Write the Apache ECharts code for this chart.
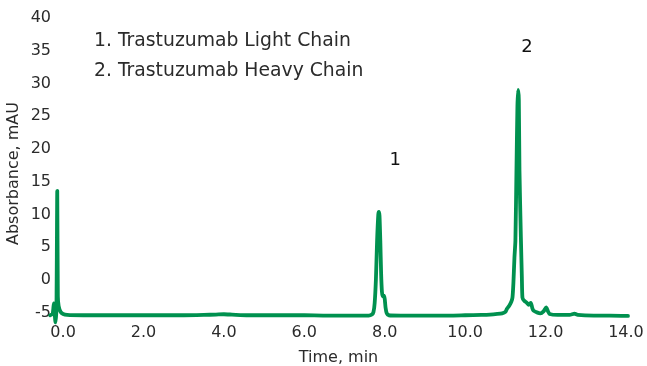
<!DOCTYPE html>
<html>
<head>
<meta charset="utf-8">
<script src="https://cdn.jsdelivr.net/npm/echarts@6/dist/echarts.min.js"></script>
<style>
  html, body { margin: 0; padding: 0; background: #fff; }
  #chart { width: 647px; height: 366px; }
</style>
</head>
<body>
<div id="chart"></div>
<script>
// Retention time (min) and absorbance (mAU) of the UV trace
const timeMin = [
  -0.32, -0.26, -0.23, -0.21, -0.19, -0.165, -0.145, -0.13, -0.11, -0.06, 0.00, 0.10,
  0.50, 1.00, 1.50, 2.00, 2.50, 3.00, 3.50, 3.80, 4.00, 4.20, 4.60, 5.00, 5.50, 6.00, 6.50, 7.00, 7.40,
  7.60, 7.68, 7.72, 7.75, 7.78, 7.81, 7.84, 7.855, 7.87, 7.89, 7.91, 7.93, 7.95, 7.98, 8.00, 8.02, 8.05, 8.10,
  8.40, 8.80, 9.20, 9.60, 10.00, 10.40, 10.62, 10.80, 10.92, 11.00, 11.04, 11.10, 11.15, 11.177, 11.20,
  11.226, 11.25, 11.276, 11.30, 11.318, 11.335, 11.351, 11.386, 11.41, 11.425, 11.47, 11.535, 11.58,
  11.634, 11.67, 11.70, 11.80, 11.87, 11.95, 12.015, 12.06, 12.10, 12.30, 12.60, 12.72, 12.80, 13.20, 13.60, 14.05
];
const absorbanceMAU = [
  -5.4, -5.2, -3.6, -5.0, -6.5, -4.2, 13.6, -2.5, -4.0, -4.9, -5.2, -5.35,
  -5.4, -5.4, -5.4, -5.4, -5.4, -5.4, -5.35, -5.3, -5.25, -5.3, -5.4, -5.4, -5.4, -5.4, -5.45, -5.45, -5.45,
  -5.45, -5.3, -4.9, -3.5, 0.0, 6.0, 10.0, 10.4, 9.8, 6.0, 1.0, -1.8, -2.5, -2.4, -2.9, -4.2, -5.1, -5.4,
  -5.45, -5.45, -5.45, -5.45, -5.4, -5.35, -5.3, -5.2, -5.1, -4.9, -4.4, -3.9, -3.3, -2.7, -0.5,
  3.4, 6.0, 16.7, 26.5, 29.0, 27.5, 16.7, 6.5, 0.5, -2.7, -3.2, -3.5, -3.8,
  -3.5, -4.3, -4.7, -5.0, -5.1, -4.8, -4.2, -4.8, -5.2, -5.35, -5.35, -5.15, -5.35, -5.45, -5.45, -5.5
];

const xTicks = [0, 2, 4, 6, 8, 10, 12, 14];
const yTicks = [-5, 0, 5, 10, 15, 20, 25, 30, 35, 40];

const legendLines = ['1. Trastuzumab Light Chain', '2. Trastuzumab Heavy Chain'];
const peakNames = ['1', '2'];
const peakAnchors = [[8.26, 18.3], [11.54, 35.5]];

const textColor = '#2b2b2b';
const fontFamily = 'DejaVu Sans, Verdana, sans-serif';

const chart = echarts.init(document.getElementById('chart'), null, { renderer: 'canvas' });

// Plot area runs a little past 0 min and below -5 mAU so the injection
// spike and baseline sit inside it; labels only at the listed ticks.
chart.setOption({
  animation: false,
  backgroundColor: '#ffffff',
  grid: {
    left: 47, right: 17, top: 18, bottom: 37,
    containLabel: false, outerBoundsMode: 'none'
  },
  xAxis: {
    type: 'value',
    min: -0.4,
    max: 14.1,
    name: 'Time, min',
    nameLocation: 'middle',
    nameGap: 21,
    nameTextStyle: { color: textColor, fontSize: 16, fontFamily: fontFamily },
    axisLine: { show: false },
    axisTick: { show: false },
    splitLine: { show: false },
    axisLabel: {
      customValues: xTicks,
      color: textColor, fontSize: 16, fontFamily: fontFamily, margin: -4,
      formatter: v => v.toFixed(1)
    }
  },
  yAxis: {
    type: 'value',
    min: -7.5,
    max: 40,
    name: 'Absorbance, mAU',
    nameLocation: 'middle',
    nameGap: 25,
    nameMoveOverlap: false,
    nameTextStyle: { color: textColor, fontSize: 16, fontFamily: fontFamily },
    axisLine: { show: false },
    axisTick: { show: false },
    splitLine: { show: false },
    axisLabel: {
      customValues: yTicks,
      color: textColor, fontSize: 16, fontFamily: fontFamily, margin: -4
    }
  },
  series: [{
    type: 'line',
    data: timeMin.map((t, i) => [t, absorbanceMAU[i]]),
    showSymbol: false,
    clip: false,
    lineStyle: { color: '#00914f', width: 3.8, join: 'round', cap: 'round' },
    smooth: 0.2
  }]
});

// Peak legend block and peak numbers
const graphics = legendLines.map((txt, i) => ({
  type: 'text',
  left: 94,
  top: 32 + i * 30,
  style: { text: txt, fill: textColor, fontSize: 18.8, fontFamily: fontFamily }
}));
peakNames.forEach((name, i) => {
  const p = chart.convertToPixel({ gridIndex: 0 }, peakAnchors[i]);
  graphics.push({
    type: 'text',
    x: p[0],
    y: p[1],
    style: {
      text: name, fill: '#111', fontSize: 18, fontFamily: fontFamily,
      align: 'center', verticalAlign: 'middle'
    }
  });
});
chart.setOption({ graphic: graphics });
</script>
</body>
</html>
